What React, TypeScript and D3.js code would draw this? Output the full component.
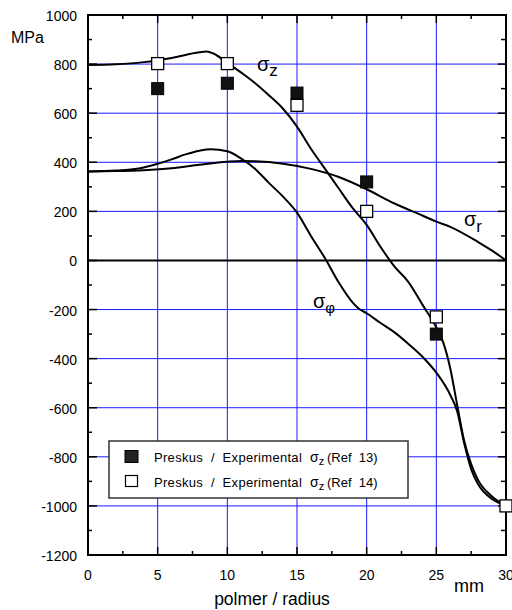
import React from "react";
import * as d3 from "d3";

// radius in mm, stress in MPa
const zRadius = [0, 2, 4, 6, 8, 8.5, 9, 10, 11, 12, 13, 14, 15, 16, 17, 18, 19, 20, 21, 22, 23, 24, 25, 25.5, 26, 26.5, 27, 27.5, 28, 29, 30];
const sigmaZ = [796, 799, 808, 825, 848, 851, 843, 805, 765, 722, 672, 618, 545, 455, 374, 293, 213, 145, 55, -25, -88, -180, -273, -335, -440, -590, -735, -830, -895, -962, -1000];

const rRadius = [0, 2, 4, 6, 8, 10, 11, 12, 14, 16, 18, 20, 22, 24, 25, 26, 28, 29, 30];
const sigmaR = [362, 364, 368, 376, 390, 402, 405, 404, 394, 373, 340, 290, 232, 183, 158, 137, 75, 40, 0];

const phiRadius = [0, 2, 4, 5, 6, 7, 8, 8.8, 10, 11, 12, 13, 14, 15, 16, 17, 18, 19, 19.4, 20, 21, 22, 23, 24, 25, 26, 26.5, 27, 27.5, 28, 29, 30];
const sigmaPhi = [362, 366, 379, 394, 412, 432, 447, 453, 445, 415, 373, 315, 260, 195, 100, 10, -90, -172, -195, -215, -255, -293, -340, -392, -457, -548, -615, -745, -850, -912, -972, -1000];

// measured points
const ref13X = [5, 10, 15, 20, 25];
const ref13Y = [700, 722, 682, 320, -300];
const ref14X = [5, 10, 15, 20, 25, 30];
const ref14Y = [802, 802, 632, 200, -230, -1000];

const xTickLabels = ["0", "5", "10", "15", "20", "25", "30"];

const FONT = "'Liberation Sans', Arial, sans-serif";

function Sigma(props: { x: number; y: number; sub: string; size: number; subSize: number; subDy: number }) {
  const { x, y, sub, size, subSize, subDy } = props;
  return (
    <text x={x} y={y} fontFamily={FONT} fontSize={size} fill="#000">
      σ
      <tspan dy={subDy} fontSize={subSize}>{sub}</tspan>
    </text>
  );
}

export default function App() {
  const left = 88, right = 506, top = 15, bottom = 555;
  const x = d3.scaleLinear().domain([0, 30]).range([left, right]);
  const y = d3.scaleLinear().domain([-1200, 1000]).range([bottom, top]);

  const yMajor = d3.range(-1200, 1001, 200);
  const yMinor = d3.range(-1100, 1000, 200);
  const xMajor = d3.range(0, 31, 5);
  const xMinor = d3.range(2.5, 30, 5);

  const line = d3.line<[number, number]>()
    .x(d => x(d[0]))
    .y(d => y(d[1]))
    .curve(d3.curveMonotoneX);

  const zPath = line(zRadius.map((r, i) => [r, sigmaZ[i]]));
  const rPath = line(rRadius.map((r, i) => [r, sigmaR[i]]));
  const phiPath = line(phiRadius.map((r, i) => [r, sigmaPhi[i]]));

  const sq = 12;
  const blue = "#1a1aff";

  return (
    <svg width={512} height={610} style={{ position: "absolute", left: 0, top: 0, background: "#fff" }}>
      {/* grid */}
      {yMajor.filter(v => v > -1200 && v < 1000 && v !== 0).map(v => (
        <line key={"gy" + v} x1={left} x2={right} y1={y(v)} y2={y(v)} stroke={blue} strokeWidth={1} />
      ))}
      {xMajor.filter(v => v > 0 && v < 30).map(v => (
        <line key={"gx" + v} x1={x(v)} x2={x(v)} y1={top} y2={bottom} stroke={blue} strokeWidth={1} />
      ))}
      <line x1={left} x2={right} y1={y(0)} y2={y(0)} stroke="#000" strokeWidth={2} />

      {/* curves */}
      <path d={zPath || ""} fill="none" stroke="#000" strokeWidth={2} />
      <path d={rPath || ""} fill="none" stroke="#000" strokeWidth={2} />
      <path d={phiPath || ""} fill="none" stroke="#000" strokeWidth={2} />

      {/* frame and ticks */}
      <rect x={left} y={top} width={right - left} height={bottom - top} fill="none" stroke="#000" strokeWidth={2} />
      {yMajor.map(v => (
        <g key={"ty" + v}>
          <line x1={left} x2={left + 9} y1={y(v)} y2={y(v)} stroke="#000" strokeWidth={1.5} />
          <line x1={right - 8} x2={right} y1={y(v)} y2={y(v)} stroke="#000" strokeWidth={1.5} />
        </g>
      ))}
      {yMinor.map(v => (
        <g key={"my" + v}>
          <line x1={left} x2={left + 4} y1={y(v)} y2={y(v)} stroke="#000" strokeWidth={1.5} />
          <line x1={right - 5} x2={right} y1={y(v)} y2={y(v)} stroke="#000" strokeWidth={1.5} />
        </g>
      ))}
      {xMajor.map(v => (
        <g key={"tx" + v}>
          <line x1={x(v)} x2={x(v)} y1={top} y2={top + 8} stroke="#000" strokeWidth={1.5} />
          <line x1={x(v)} x2={x(v)} y1={bottom - 8} y2={bottom} stroke="#000" strokeWidth={1.5} />
        </g>
      ))}
      {xMinor.map(v => (
        <g key={"mx" + v}>
          <line x1={x(v)} x2={x(v)} y1={top} y2={top + 4} stroke="#000" strokeWidth={1.5} />
          <line x1={x(v)} x2={x(v)} y1={bottom - 4} y2={bottom} stroke="#000" strokeWidth={1.5} />
        </g>
      ))}

      {/* measured points */}
      {ref14X.map((r, i) => (
        <rect key={"o" + i} x={x(r) - sq / 2} y={y(ref14Y[i]) - sq / 2} width={sq} height={sq} fill="#fff" stroke="#000" strokeWidth={1.3} />
      ))}
      {ref13X.map((r, i) => (
        <rect key={"f" + i} x={x(r) - sq / 2} y={y(ref13Y[i]) - sq / 2} width={sq} height={sq} fill="#111" stroke="#000" strokeWidth={1} />
      ))}

      {/* tick labels */}
      {yMajor.map(v => (
        <text key={"ly" + v} x={77} y={y(v) + 6} textAnchor="end" fontFamily={FONT} fontSize={14} fill="#000">{v}</text>
      ))}
      {xMajor.map((v, i) => (
        <text key={"lx" + v} x={x(v)} y={580} textAnchor="middle" fontFamily={FONT} fontSize={14} fill="#000">{xTickLabels[i]}</text>
      ))}
      <text x={11} y={43} fontFamily={FONT} fontSize={16} fill="#000">MPa</text>
      <text x={454} y={592} fontFamily={FONT} fontSize={18} fill="#000">mm</text>
      <text x={272} y={605} textAnchor="middle" fontFamily={FONT} fontSize={17.5} fill="#000">polmer / radius</text>

      {/* curve labels */}
      <Sigma x={257} y={71} sub="z" size={20} subSize={17} subDy={5} />
      <Sigma x={464} y={226} sub="r" size={20} subSize={17} subDy={6} />
      <Sigma x={313} y={308} sub="φ" size={20} subSize={15} subDy={5} />

      {/* legend */}
      <rect x={109} y={441} width={299} height={57} fill="#fff" stroke="#333" strokeWidth={1.5} />
      <rect x={125} y={450.5} width={13} height={12} fill="#222" stroke="#000" strokeWidth={1} />
      <rect x={125.5} y={475.5} width={12} height={11} fill="#fff" stroke="#000" strokeWidth={1.2} />
      {[462, 487].map((by, i) => (
        <g key={"lg" + i}>
          <text x={154} y={by} fontFamily={FONT} fontSize={13} letterSpacing={0.3} fill="#000" style={{ whiteSpace: "pre" }}>{"Preskus  /  Experimental"}</text>
          <text x={310} y={by} fontFamily={FONT} fontSize={14} fill="#000">
            σ<tspan dy={3} fontSize={11}>z</tspan>
          </text>
          <text x={327} y={by} fontFamily={FONT} fontSize={13} fill="#000" style={{ whiteSpace: "pre" }}>{i === 0 ? "(Ref  13)" : "(Ref  14)"}</text>
        </g>
      ))}
    </svg>
  );
}
